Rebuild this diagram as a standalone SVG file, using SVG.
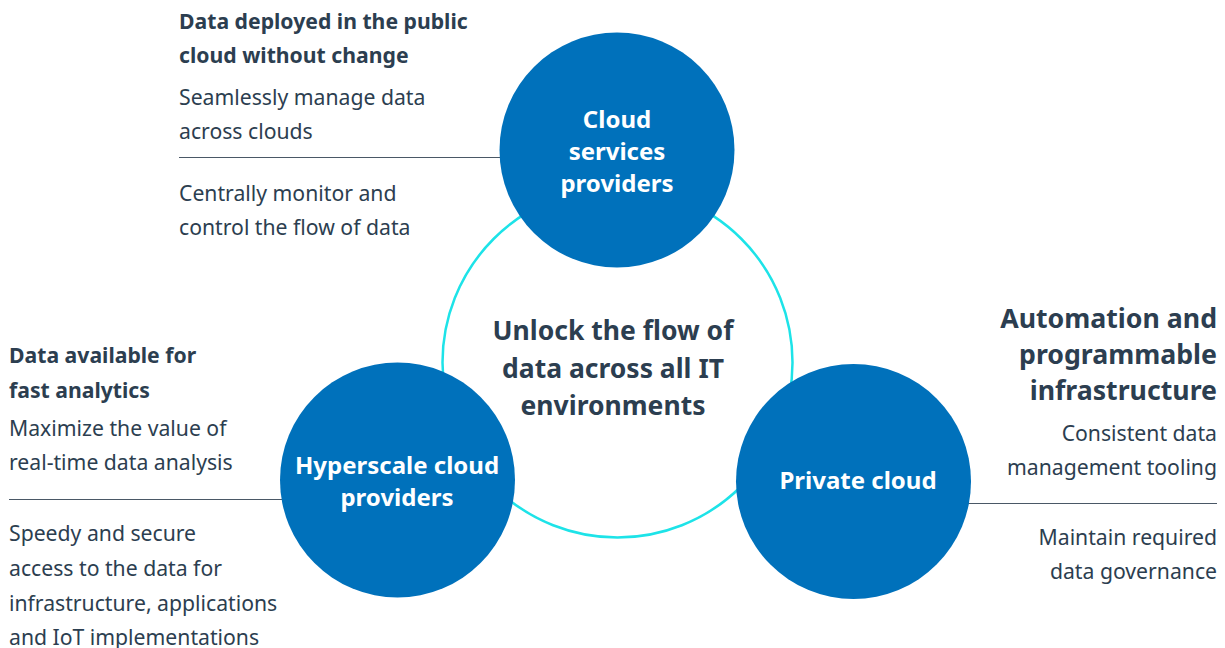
<svg xmlns="http://www.w3.org/2000/svg" width="1225" height="648" viewBox="0 0 1225 648">
<style>
text{font-family:"Noto Sans","Open Sans","Liberation Sans",sans-serif;fill:#2c3e50}
.h{font-weight:700;font-size:21.2px}
.b{font-size:21.2px}
.hr{font-weight:700;font-size:26.7px;text-anchor:end}
.r{text-anchor:end}
.c{font-weight:700;font-size:26.5px;text-anchor:middle}
.n{font-weight:700;font-size:24px;fill:#ffffff;text-anchor:middle}
.node{fill:#0071bb}
.sep{stroke:#4a5866;stroke-width:1.2}
</style>
<rect width="1225" height="648" fill="#ffffff"/>
<g id="connectors">
<line class="sep" x1="179" y1="157.5" x2="505" y2="157.5"/>
<line class="sep" x1="9" y1="499.5" x2="285" y2="499.5"/>
<line class="sep" x1="966" y1="503.5" x2="1217" y2="503.5"/>
</g>
<g id="hub">
<circle cx="617.5" cy="362.5" r="175" fill="#ffffff" stroke="#1de3e8" stroke-width="2.5"/>
<text class="c" x="613" y="340">Unlock the flow of</text>
<text class="c" x="613" y="378">data across all IT</text>
<text class="c" x="613" y="415">environments</text>
</g>
<g id="cloud-services">
<circle class="node" cx="617" cy="150" r="117.5"/>
<text class="n" x="617" y="128">Cloud</text>
<text class="n" x="617" y="160">services</text>
<text class="n" x="617" y="192">providers</text>
</g>
<g id="hyperscale">
<circle class="node" cx="397.5" cy="480" r="117.5"/>
<text class="n" x="397" y="474">Hyperscale cloud</text>
<text class="n" x="397" y="506">providers</text>
</g>
<g id="private-cloud">
<circle class="node" cx="853.5" cy="481.5" r="117.5"/>
<text class="n" x="858" y="489">Private cloud</text>
</g>
<g id="note-top">
<text class="h" x="179" y="29">Data deployed in the public</text>
<text class="h" x="179" y="63">cloud without change</text>
<text class="b" x="179" y="105">Seamlessly manage data</text>
<text class="b" x="179" y="139">across clouds</text>
<text class="b" x="179" y="201">Centrally monitor and</text>
<text class="b" x="179" y="235">control the flow of data</text>
</g>
<g id="note-left">
<text class="h" x="9" y="363">Data available for</text>
<text class="h" x="9" y="398">fast analytics</text>
<text class="b" x="9" y="436">Maximize the value of</text>
<text class="b" x="9" y="470">real-time data analysis</text>
<text class="b" x="9" y="541">Speedy and secure</text>
<text class="b" x="9" y="576">access to the data for</text>
<text class="b" x="9" y="611">infrastructure, applications</text>
<text class="b" x="9" y="645">and IoT implementations</text>
</g>
<g id="note-right">
<text class="hr" x="1217" y="328">Automation and</text>
<text class="hr" x="1217" y="364">programmable</text>
<text class="hr" x="1217" y="400">infrastructure</text>
<text class="b r" x="1217" y="441">Consistent data</text>
<text class="b r" x="1217" y="475">management tooling</text>
<text class="b r" x="1217" y="545">Maintain required</text>
<text class="b r" x="1217" y="579">data governance</text>
</g>
</svg>
